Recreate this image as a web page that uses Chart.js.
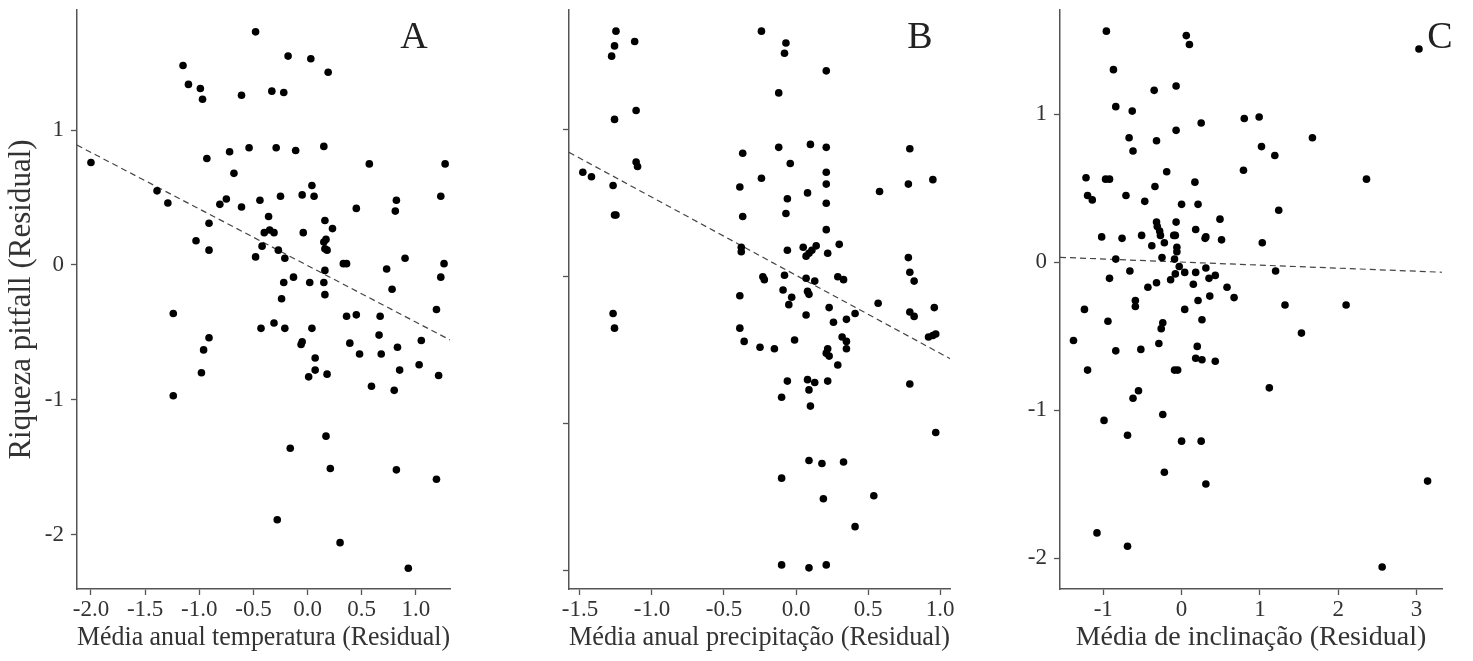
<!DOCTYPE html>
<html><head><meta charset="utf-8">
<script src="https://cdn.jsdelivr.net/npm/chart.js@4.4.1/dist/chart.umd.min.js"></script>
<style>
html,body{margin:0;padding:0;background:#fff;}
#wrap{position:relative;width:1473px;height:661px;overflow:hidden;background:#fff;}
.panel{position:absolute;top:0;height:661px;}
</style></head><body>
<div id="wrap">
  <div class="panel" style="left:0;width:480px"><canvas id="cA"></canvas></div>
  <div class="panel" style="left:480px;width:500px"><canvas id="cB"></canvas></div>
  <div class="panel" style="left:980px;width:493px"><canvas id="cC"></canvas></div>
</div>
<script>
// ---- Panel A: temperatura ----
const tempX = [-0.48,-1.15,-0.18,0.03,0.19,-1.10,-0.99,-0.97,-0.61,-0.33,-0.22,-2.00,-0.93,-0.72,-0.54,-0.29,-0.11,0.15,0.57,1.27,
  -0.68,0.04,-1.39,-1.29,-0.05,0.06,-0.25,-0.44,-0.81,-0.75,-0.61,0.82,1.23,0.45,0.81,-0.91,-0.36,0.16,0.23,-0.40,
  -0.35,-0.31,-0.04,0.17,0.15,-1.03,-0.91,-0.42,-0.27,0.16,0.18,-0.48,-0.21,0.90,0.33,0.36,1.26,0.16,0.73,1.23,
  -0.13,-0.22,0.02,0.15,0.78,-0.24,0.16,-1.24,1.19,0.36,0.45,0.67,-0.43,-0.31,-0.21,0.04,-0.91,-0.96,0.66,0.39,
  -0.05,-0.06,1.05,0.83,0.48,0.68,0.07,1.03,-0.98,0.07,0.18,0.01,0.85,1.21,0.59,0.80,-1.24,0.17,-0.16,0.21,
  0.82,1.19,-0.28,0.30,0.93];
const tempY = [1.73,1.48,1.55,1.53,1.43,1.34,1.31,1.23,1.26,1.29,1.28,0.76,0.79,0.84,0.87,0.87,0.85,0.88,0.75,0.75,
  0.68,0.59,0.55,0.46,0.52,0.51,0.51,0.48,0.45,0.49,0.43,0.48,0.51,0.42,0.40,0.31,0.36,0.33,0.27,0.24,
  0.26,0.24,0.24,0.19,0.17,0.18,0.11,0.14,0.11,0.12,0.11,0.06,0.05,0.05,0.01,0.01,0.01,-0.04,-0.03,-0.09,
  -0.09,-0.13,-0.13,-0.13,-0.18,-0.25,-0.22,-0.36,-0.33,-0.38,-0.37,-0.38,-0.47,-0.43,-0.47,-0.47,-0.54,-0.63,-0.52,-0.58,
  -0.57,-0.59,-0.56,-0.61,-0.66,-0.66,-0.69,-0.74,-0.80,-0.78,-0.81,-0.83,-0.78,-0.82,-0.90,-0.93,-0.97,-1.27,-1.36,-1.51,
  -1.52,-1.59,-1.89,-2.06,-2.25];
const tempTrendX = [-2.13, 1.315];
const tempTrendY = [0.89, -0.556];

// ---- Panel B: precipitação ----
const precX = [-1.25,-1.26,-1.28,-1.12,-0.24,-0.07,-0.08,0.21,-0.12,-1.11,-1.26,-0.37,-0.12,0.10,0.21,0.79,-0.04,-1.11,-1.10,-1.48,
  -1.42,-1.27,-0.39,-0.24,0.21,0.21,0.08,0.58,0.78,0.95,-0.06,0.21,-1.26,-1.25,-0.37,-0.07,0.21,-0.38,-0.38,-0.06,
  0.05,0.14,0.11,0.07,0.09,0.30,0.22,0.78,-0.23,-0.22,-0.08,0.07,0.13,0.29,0.33,0.79,0.82,-0.39,-0.09,-0.03,
  0.08,0.09,-0.05,0.57,0.23,0.96,-1.27,0.07,0.41,0.79,0.82,0.35,0.26,-1.26,-0.39,0.92,0.95,0.97,0.32,0.35,
  -0.36,-0.25,-0.15,-0.01,0.35,0.22,0.21,0.23,0.29,-0.06,0.08,0.13,0.22,0.79,0.09,-0.10,0.10,0.97,0.09,0.18,
  0.33,-0.10,0.19,0.54,0.41,-0.10,0.09,0.21];
const precY = [1.67,1.57,1.50,1.60,1.67,1.59,1.52,1.40,1.25,1.13,1.07,0.84,0.88,0.90,0.88,0.87,0.77,0.78,0.75,0.71,
  0.68,0.62,0.61,0.67,0.71,0.63,0.57,0.58,0.63,0.66,0.53,0.50,0.42,0.42,0.41,0.43,0.32,0.20,0.17,0.18,
  0.20,0.21,0.18,0.14,0.16,0.22,0.16,0.13,0.00,-0.02,0.01,-0.01,-0.03,0.00,-0.02,0.03,-0.03,-0.13,-0.09,-0.14,
  -0.10,-0.12,-0.19,-0.18,-0.21,-0.21,-0.25,-0.26,-0.25,-0.24,-0.27,-0.29,-0.31,-0.35,-0.35,-0.41,-0.40,-0.39,-0.41,-0.44,
  -0.44,-0.48,-0.49,-0.43,-0.49,-0.49,-0.52,-0.54,-0.60,-0.71,-0.70,-0.72,-0.71,-0.73,-0.77,-0.82,-0.88,-1.06,-1.25,-1.27,
  -1.26,-1.37,-1.51,-1.49,-1.70,-1.96,-1.98,-1.96];
const precTrendX = [-1.576, 1.074];
const precTrendY = [0.846, -0.56];

// ---- Panel C: inclinação ----
const inclX = [-0.96,0.06,0.10,3.03,-0.87,-0.07,-0.35,-0.84,-0.63,0.80,0.99,0.25,-0.07,-0.67,-0.32,1.67,-0.62,1.02,1.19,0.79,
  -0.19,-1.22,-0.97,-0.92,2.36,0.17,-0.34,-1.20,-1.14,-0.71,-0.47,0.00,0.21,1.24,-0.32,-0.31,-0.28,-0.27,-0.07,0.49,
  -1.02,-0.76,-0.51,-0.10,-0.08,0.18,0.30,0.31,0.51,1.03,-0.38,-0.22,-0.06,-0.06,-0.25,-0.84,-0.09,-0.66,-0.03,-0.08,
  0.04,0.18,0.31,0.43,0.35,1.20,-0.92,-0.32,-0.14,-0.43,0.15,0.58,-0.59,-0.59,0.21,0.36,0.67,-1.24,0.04,1.32,
  2.10,-0.94,-0.24,-0.26,0.26,1.53,-1.38,-0.29,-0.84,-0.52,0.20,0.18,0.26,0.43,-1.20,-0.09,-0.05,1.12,-0.55,-0.62,
  -0.99,-0.24,-0.69,0.00,0.25,-0.22,0.31,3.14,-1.08,-0.69,2.56];
const inclY = [1.56,1.53,1.47,1.44,1.30,1.19,1.16,1.05,1.02,0.97,0.98,0.94,0.89,0.84,0.82,0.84,0.75,0.78,0.72,0.62,
  0.61,0.57,0.56,0.56,0.56,0.54,0.51,0.45,0.42,0.45,0.41,0.39,0.39,0.35,0.27,0.24,0.21,0.18,0.27,0.29,
  0.17,0.16,0.18,0.18,0.18,0.22,0.16,0.17,0.15,0.13,0.11,0.13,0.10,0.07,0.03,0.02,0.02,-0.06,-0.03,-0.08,
  -0.07,-0.07,-0.04,-0.09,-0.11,-0.06,-0.11,-0.14,-0.12,-0.17,-0.15,-0.17,-0.26,-0.30,-0.26,-0.23,-0.24,-0.32,-0.32,-0.29,
  -0.29,-0.40,-0.41,-0.45,-0.39,-0.48,-0.53,-0.55,-0.60,-0.59,-0.57,-0.65,-0.66,-0.67,-0.73,-0.73,-0.73,-0.85,-0.87,-0.92,
  -1.07,-1.03,-1.17,-1.21,-1.21,-1.42,-1.50,-1.48,-1.83,-1.92,-2.06];
const inclTrendX = [-1.552, 3.337];
const inclTrendY = [0.032, -0.069];

// ---- ticks / labels ----
const tempTicks = [-2.0,-1.5,-1.0,-0.5,0.0,0.5,1.0];
const tempTickLabels = ['-2.0','-1.5','-1.0','-0.5','0.0','0.5','1.0'];
const precTicks = [-1.5,-1.0,-0.5,0.0,0.5,1.0];
const precTickLabels = ['-1.5','-1.0','-0.5','0.0','0.5','1.0'];
const inclTicks = [-1,0,1,2,3];
const inclTickLabels = ['-1','0','1','2','3'];
const yTicks = [-2,-1,0,1];
const yTickLabels = ['-2','-1','0','1'];
const yTickLabelsBlank = ['','','',''];

const xTitles = ['Média anual temperatura (Residual)','Média anual precipitação (Residual)','Média de inclinação (Residual)'];
const yTitle = 'Riqueza pitfall (Residual)';
const panelLetters = ['A','B','C'];

// ---- drawing ----
const FONT = '"Liberation Serif", "Times New Roman", serif';
const AXIS = '#555';
const TEXT = '#333';

const letterPlugin = {
  id: 'panelLetter',
  afterDraw(chart, args, opts) {
    const {ctx, chartArea} = chart;
    ctx.save();
    ctx.font = '38px ' + FONT;
    ctx.fillStyle = '#222';
    ctx.textAlign = 'center';
    ctx.textBaseline = 'alphabetic';
    ctx.fillText(opts.text, chartArea.right + opts.dx, chartArea.top + opts.dy);
    ctx.restore();
  }
};

function pts(xs, ys) { return xs.map((x, i) => ({x: x, y: ys[i]})); }

function build(id, cfg) {
  new Chart(document.getElementById(id), {
    type: 'scatter',
    data: {
      datasets: [
        {data: pts(cfg.xs, cfg.ys), backgroundColor: '#000', borderWidth: 0, pointRadius: 3.8, pointHoverRadius: 3.8},
        {data: pts(cfg.tx, cfg.ty), showLine: true, borderColor: '#444', borderWidth: 1.2, borderDash: [6, 4],
         pointRadius: 0, pointHoverRadius: 0, fill: false}
      ]
    },
    plugins: [letterPlugin],
    options: {
      animation: false,
      responsive: true,
      maintainAspectRatio: false,
      layout: {padding: {left: 0, top: 10, right: cfg.padRight, bottom: 0}},
      plugins: {
        legend: {display: false},
        tooltip: {enabled: false},
        panelLetter: {text: cfg.letter, dx: cfg.ldx, dy: 38}
      },
      scales: {
        x: {
          type: 'linear', min: cfg.xMin, max: cfg.xMax,
          afterBuildTicks: s => { s.ticks = cfg.xTicks.map(v => ({value: v})); },
          afterFit: s => { s.height = 72; s.paddingLeft = 0; s.paddingRight = 0; },
          ticks: {
            callback: (v, i) => cfg.xLabels[i],
            font: {family: FONT, size: 23}, color: TEXT, padding: 1, maxRotation: 0, autoSkip: false
          },
          grid: {drawOnChartArea: false, drawTicks: true, tickLength: 6, color: AXIS, tickWidth: 1.3},
          border: {display: true, color: AXIS, width: 1.5},
          title: {display: true, text: cfg.xTitle, font: {family: FONT, size: 28}, color: TEXT,
                  padding: {top: 0, bottom: 7}}
        },
        y: {
          type: 'linear', min: cfg.yMin, max: cfg.yMax,
          afterBuildTicks: s => { s.ticks = yTicks.map(v => ({value: v})); },
          afterFit: s => { s.width = cfg.yWidth; s.paddingTop = 0; s.paddingBottom = 0; },
          ticks: {
            callback: (v, i) => cfg.yLabels[i],
            font: {family: FONT, size: 23}, color: TEXT, padding: 7, autoSkip: false
          },
          grid: {drawOnChartArea: false, drawTicks: true, tickLength: 6, color: AXIS, tickWidth: 1.3},
          border: {display: true, color: AXIS, width: 1.5},
          title: {display: !!cfg.yTitle, text: cfg.yTitle || '', font: {family: FONT, size: 31}, color: TEXT,
                  padding: {top: 3, bottom: 0}}
        }
      }
    }
  });
}

build('cA', {xs: tempX, ys: tempY, tx: tempTrendX, ty: tempTrendY,
  xMin: -2.129, xMax: 1.315, yMin: -2.404, yMax: 1.892,
  xTicks: tempTicks, xLabels: tempTickLabels, yLabels: yTickLabels,
  yWidth: 77, padRight: 30, xTitle: xTitles[0], yTitle: yTitle, letter: panelLetters[0], ldx: -36});

build('cB', {xs: precX, ys: precY, tx: precTrendX, ty: precTrendY,
  xMin: -1.576, xMax: 1.069, yMin: -2.124, yMax: 1.814,
  xTicks: precTicks, xLabels: precTickLabels, yLabels: yTickLabelsBlank,
  yWidth: 89, padRight: 30, xTitle: xTitles[1], yTitle: null, letter: panelLetters[1], ldx: -30});

build('cC', {xs: inclX, ys: inclY, tx: inclTrendX, ty: inclTrendY,
  xMin: -1.552, xMax: 3.324, yMin: -2.209, yMax: 1.703,
  xTicks: inclTicks, xLabels: inclTickLabels, yLabels: yTickLabels,
  yWidth: 80, padRight: 31, xTitle: xTitles[2], yTitle: null, letter: panelLetters[2], ldx: -2});
</script>
</body></html>
